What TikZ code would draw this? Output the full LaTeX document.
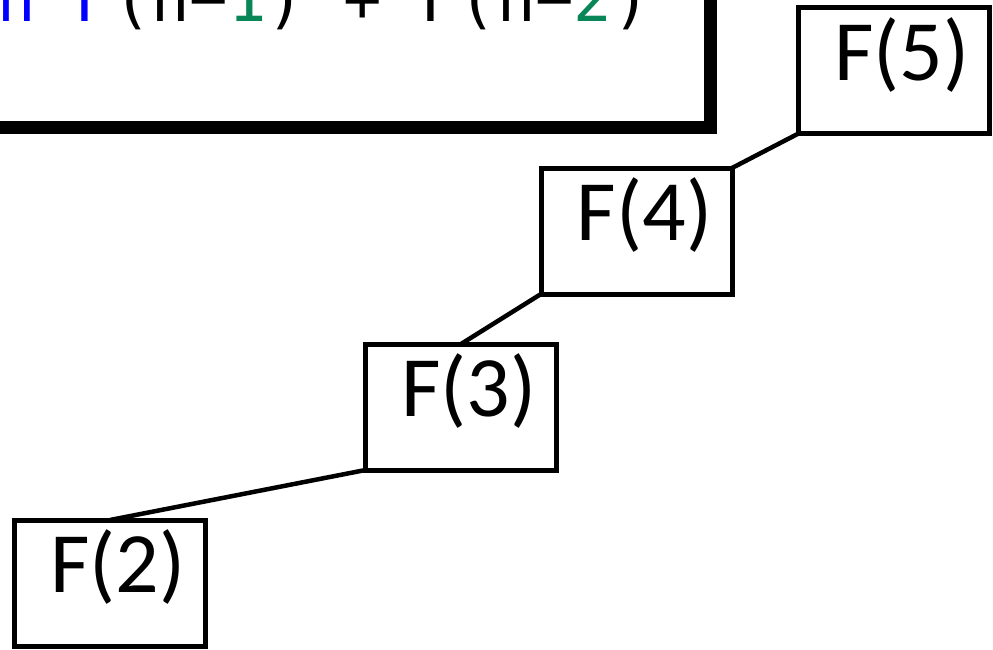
\documentclass[tikz,border=0pt]{standalone}
\usepackage{fontspec}
\usepackage{xcolor}
\usetikzlibrary{positioning}

\newfontfamily\callfont{Carlito}
\newfontfamily\codefont{DejaVu Sans Mono}
\definecolor{kwblue}{RGB}{0,0,255}
\definecolor{numgreen}{RGB}{9,134,88}

\begin{document}
\begin{tikzpicture}[x=1pt, y=-1pt,
    call/.style={draw, line width=5pt, outer sep=0pt, inner sep=0pt,
                 minimum width=191pt, text height=72.5pt, text depth=53.5pt,
                 font=\callfont\fontsize{86}{86}\selectfont,
                 execute at begin node={\hspace*{16pt}}},
    code/.style={inner sep=0pt, font=\codefont\fontsize{63.8}{64}\selectfont},
    link/.style={line width=4.5pt}
  ]
  \useasboundingbox (0,0) rectangle (993,649);
  \clip (0,0) rectangle (993,649);

  % code frame, only its lower right corner is in view
  \draw[line width=13.5pt] (-40,-300) rectangle (710.5,127.5);
  \node[code, anchor=base east] (body) at (651,21.5)
    {\textcolor{kwblue}{return F}(n−\textcolor{numgreen}{1}) + F(n−\textcolor{numgreen}{2})};

  % call chain
  \node[call] (f5) at (894,70.5) {F(5)};
  \node[call] (f4) at (636.5,231) {F(4)};
  \node[call] (f3) at (461,407) {F(3)};
  \node[call] (f2) at (110,583) {F(2)};

  \draw[link] (f4.north east) -- (f5.south west);
  \draw[link] (f3.north) -- (f4.south west);
  \draw[link] (f2.north) -- (f3.south west);
\end{tikzpicture}
\end{document}
